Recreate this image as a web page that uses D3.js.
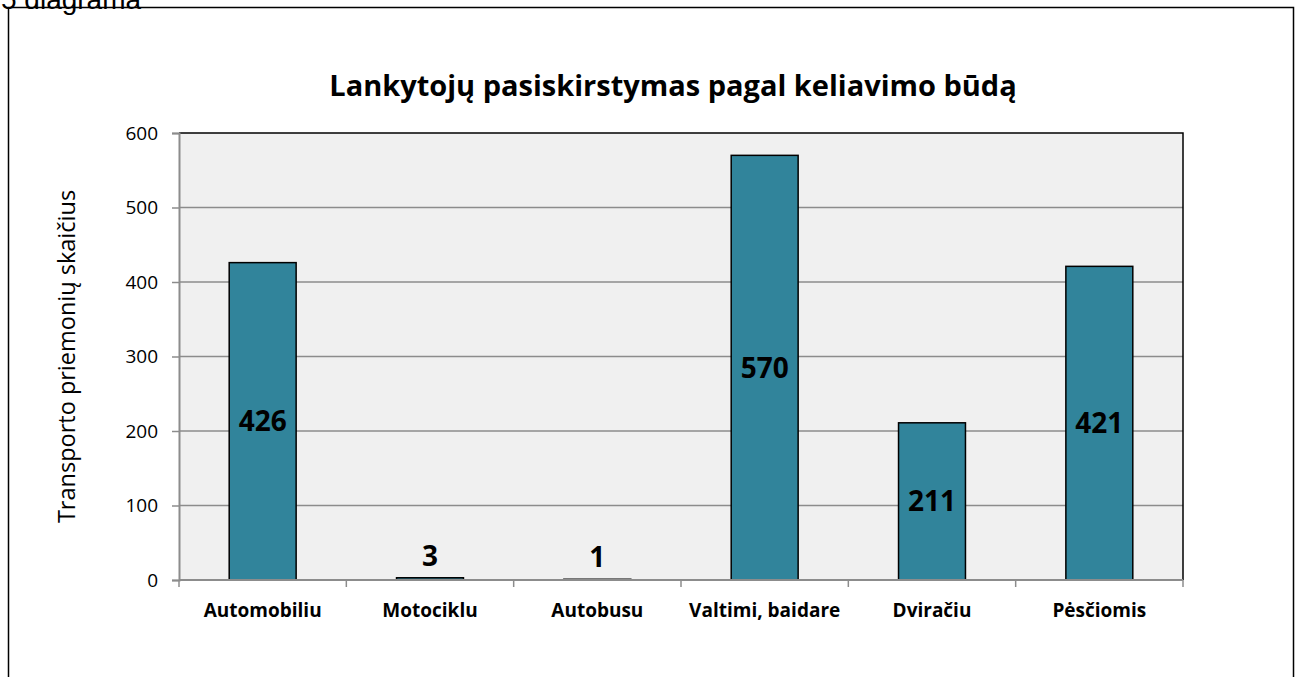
<!DOCTYPE html>
<html>
<head>
<meta charset="utf-8">
<script src="https://cdn.jsdelivr.net/npm/d3@7"></script>
<style>
  body { margin: 0; background: #fff; }
  svg { display: block; }
</style>
</head>
<body>
<svg id="chart" width="1300" height="677"></svg>
<script>
// duomenys
var categories = ["Automobiliu", "Motociklu", "Autobusu", "Valtimi, baidare", "Dviračiu", "Pėsčiomis"];
var values = [426, 3, 1, 570, 211, 421];
var yTicks = [0, 100, 200, 300, 400, 500, 600];

var svg = d3.select("#chart");
var width = 1300, height = 677;
var margin = {left: 179, right: 117, top: 133, bottom: 97};
var plotW = width - margin.left - margin.right,
    plotH = height - margin.top - margin.bottom;

// caption over the frame, cut by the page top as in the scan
svg.append("text")
    .attr("x", 1)
    .attr("y", 9)
    .style("font-family", "Arial, 'Liberation Sans', sans-serif")
    .style("font-size", "28px")
    .text("5 diagrama");

// outer frame
svg.append("rect")
    .attr("x", 8.5)
    .attr("y", 7.5)
    .attr("width", 1285)
    .attr("height", 720)
    .attr("fill", "none")
    .attr("stroke", "#000")
    .attr("stroke-width", 1.5);

svg.append("text")
    .attr("x", 673)
    .attr("y", 96)
    .attr("text-anchor", "middle")
    .style("font-family", "'Open Sans', sans-serif")
    .style("font-size", "29px")
    .style("font-weight", "bold")
    .text("Lankytojų pasiskirstymas pagal keliavimo būdą");

var x = d3.scaleBand()
    .domain(categories)
    .range([0, plotW])
    .paddingInner(0.6)
    .paddingOuter(0.3);

var y = d3.scaleLinear()
    .domain([0, 600])
    .range([plotH, 0]);

var g = svg.append("g")
    .attr("transform", "translate(" + margin.left + "," + margin.top + ")");

g.append("rect")
    .attr("width", plotW)
    .attr("height", plotH)
    .attr("fill", "#f0f0f0");

// gridlines
g.selectAll(".grid")
    .data(yTicks.slice(1, -1))
    .enter().append("line")
    .attr("x1", 0)
    .attr("x2", plotW)
    .attr("y1", d => y(d))
    .attr("y2", d => y(d))
    .attr("stroke", "#8c8c8c")
    .attr("stroke-width", 1.5);

// top and right border
g.append("path")
    .attr("d", "M0," + y(600) + "H" + plotW + "V" + plotH)
    .attr("fill", "none")
    .attr("stroke", "#000")
    .attr("stroke-width", 1.5);

g.selectAll(".bar")
    .data(values)
    .enter().append("rect")
    .attr("class", "bar")
    .attr("x", (d, i) => x(categories[i]))
    .attr("y", d => y(d))
    .attr("width", x.bandwidth())
    .attr("height", d => plotH - y(d))
    .attr("fill", "#31849b")
    .attr("stroke", "#000")
    .attr("stroke-width", 1.5);

// value labels: inside the middle for tall bars, above for tiny ones
g.selectAll(".val")
    .data(values)
    .enter().append("text")
    .attr("x", (d, i) => x(categories[i]) + x.bandwidth() / 2)
    .attr("y", d => d > 50 ? (y(d) + plotH) / 2 + 10 : y(d) - 12)
    .attr("text-anchor", "middle")
    .style("font-family", "'Open Sans', sans-serif")
    .style("font-size", "28px")
    .style("font-weight", "bold")
    .text(d => d);

// y axis
var yAxis = g.append("g")
    .call(d3.axisLeft(y).tickValues(yTicks).tickSize(7).tickPadding(14));
yAxis.select(".domain").attr("stroke", "#8c8c8c").attr("stroke-width", 2);
yAxis.selectAll(".tick line").attr("stroke", "#8c8c8c").attr("stroke-width", 1.5);
yAxis.selectAll(".tick text")
    .style("font-family", "'Open Sans', sans-serif")
    .style("font-size", "19px")
    .attr("fill", "#000");

// x axis, ticks between categories
var xAxis = g.append("g")
    .attr("transform", "translate(0," + plotH + ")")
    .call(d3.axisBottom(x).tickSize(0).tickPadding(24));
xAxis.select(".domain").remove();
xAxis.append("line")
    .attr("x1", 0).attr("x2", plotW)
    .attr("stroke", "#8c8c8c").attr("stroke-width", 2);
xAxis.selectAll(".sep")
    .data(d3.range(categories.length + 1))
    .enter().append("line")
    .attr("x1", i => i * plotW / categories.length)
    .attr("x2", i => i * plotW / categories.length)
    .attr("y1", 0).attr("y2", 7)
    .attr("stroke", "#8c8c8c").attr("stroke-width", 1.5);
xAxis.selectAll(".tick text")
    .style("font-family", "'Open Sans', sans-serif")
    .style("font-size", "19px")
    .style("font-weight", "bold")
    .attr("fill", "#000");

svg.append("text")
    .attr("transform", "translate(75," + (margin.top + plotH / 2) + ") rotate(-90)")
    .attr("text-anchor", "middle")
    .style("font-family", "'Open Sans', sans-serif")
    .style("font-size", "23.5px")
    .text("Transporto priemonių skaičius");
</script>
</body>
</html>
